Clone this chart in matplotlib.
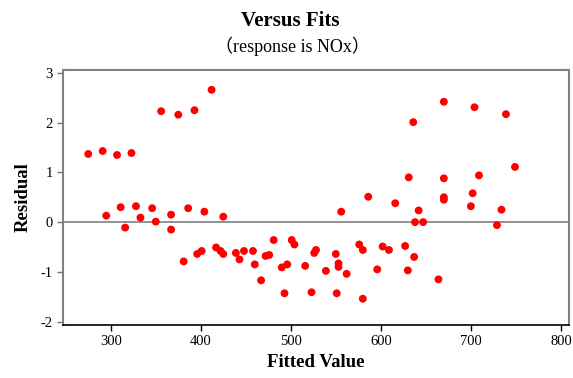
import matplotlib
matplotlib.use("Agg")
import matplotlib.pyplot as plt

plt.rcParams['font.family'] = ['Liberation Serif', 'Noto Sans CJK SC']
plt.rcParams['axes.unicode_minus'] = False

# fitted values and residuals
fitted = [275, 291, 307, 323, 356, 375, 393, 412,
          295, 311, 316, 328, 333, 346, 350, 367, 367, 386, 404, 425,
          381, 396, 401, 417, 422, 425, 439, 443, 448,
          458, 460, 467, 472, 476, 481, 490, 493, 496, 501, 504,
          516, 523, 526, 528, 539, 550, 551, 553, 553, 556, 562,
          576, 580, 580, 586, 596, 602, 609, 616, 627, 630, 631,
          636, 637, 638, 642, 647,
          664, 670, 670, 670, 670, 700, 702, 704, 709, 729, 734, 739, 749]
residual = [1.37, 1.43, 1.35, 1.39, 2.23, 2.16, 2.25, 2.66,
            0.13, 0.30, -0.11, 0.32, 0.09, 0.28, 0.01, 0.15, -0.15, 0.28, 0.21, 0.11,
            -0.79, -0.64, -0.58, -0.51, -0.58, -0.64, -0.62, -0.75, -0.58,
            -0.58, -0.85, -1.17, -0.68, -0.66, -0.36, -0.91, -1.43, -0.85, -0.36, -0.45,
            -0.88, -1.41, -0.62, -0.56, -0.98, -0.64, -1.43, -0.83, -0.90, 0.21, -1.04,
            -0.45, -0.56, -1.54, 0.51, -0.95, -0.49, -0.56, 0.38, -0.48, -0.97, 0.90,
            2.01, -0.70, 0.0, 0.235, 0.0,
            -1.15, 2.42, 0.88, 0.50, 0.45, 0.32, 0.58, 2.31, 0.94, -0.06, 0.25, 2.17, 1.11]

xticks = [300, 400, 500, 600, 700, 800]
yticks = [-2, -1, 0, 1, 2, 3]

fig = plt.figure(figsize=(5.73, 3.78), dpi=100)
ax = fig.add_axes([0.110, 0.140, 0.883, 0.675])

ax.axhline(0, color='#808080', lw=1.2, zorder=1)
ax.scatter(fitted, residual, s=32, color='red', edgecolors='none', zorder=3)

ax.set_xlim(247, 809)
ax.set_ylim(-2.07, 3.06)
ax.set_xticks(xticks)
ax.set_yticks(yticks)
ax.tick_params(direction='out', length=4, width=1, labelsize=10.5, labelcolor='black')
ax.tick_params(axis='x', colors='black')
ax.tick_params(axis='y', colors='#707070', labelcolor='black')

ax.spines['bottom'].set_color('black')
ax.spines['bottom'].set_linewidth(1.2)
for s in ['top', 'right', 'left']:
    ax.spines[s].set_color('#808080')
    ax.spines[s].set_linewidth(1.5)

ax.set_xlabel('Fitted Value', fontsize=13.5, fontweight='bold', labelpad=4)
ax.set_ylabel('Residual', fontsize=13.5, fontweight='bold', labelpad=6)

fig.text(0.507, 0.944, 'Versus Fits', ha='center', va='center',
         fontsize=15, fontweight='bold')
fig.text(0.510, 0.878, '（response is NOx）', ha='center', va='center', fontsize=13)

fig.savefig('out.png', dpi=100)
